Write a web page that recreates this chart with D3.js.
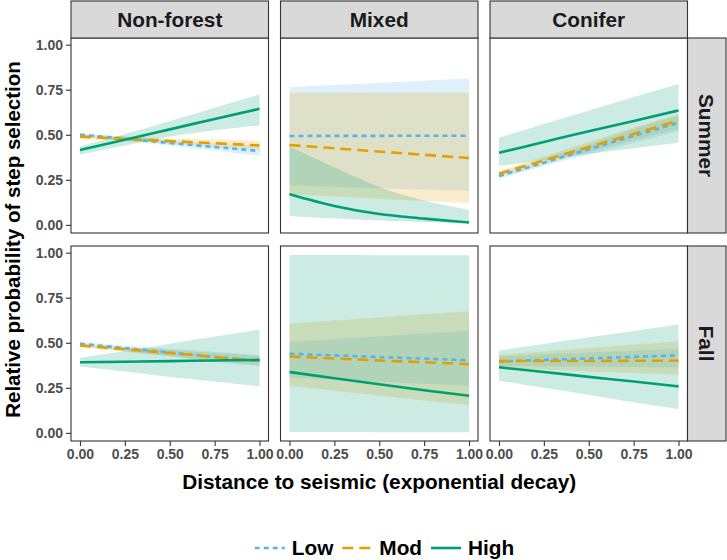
<!DOCTYPE html>
<html><head><meta charset="utf-8">
<script src="https://cdn.jsdelivr.net/npm/d3@7"></script>
<style>body{margin:0;background:#fff}svg{display:block;font-family:"Liberation Sans",Arial,sans-serif}</style>
</head><body><svg id="c" width="727" height="560"></svg>
<script>
// ---- data ----
const habitats = ["Non-forest", "Mixed", "Conifer"];
const seasons = ["Summer", "Fall"];
const levels = ["Low", "Mod", "High"];
const xValues = [0, 0.25, 0.5, 0.75, 1];
const xTicks = [0, 0.25, 0.5, 0.75, 1];
const yTicks = [0, 0.25, 0.5, 0.75, 1];

// each: fit, lower, upper at xValues
const nonforestSummer = {
  Low:  {fit:[0.500,0.478,0.455,0.432,0.410], lo:[0.490,0.465,0.440,0.412,0.385], hi:[0.510,0.490,0.470,0.452,0.440]},
  Mod:  {fit:[0.490,0.477,0.465,0.453,0.441], lo:[0.480,0.465,0.450,0.432,0.415], hi:[0.500,0.490,0.480,0.474,0.468]},
  High: {fit:[0.415,0.472,0.530,0.588,0.644], lo:[0.390,0.440,0.490,0.525,0.552], hi:[0.437,0.505,0.575,0.650,0.723]}
};
const mixedSummer = {
  Low:  {fit:[0.493,0.494,0.494,0.495,0.495], lo:[0.220,0.212,0.204,0.196,0.188], hi:[0.764,0.776,0.788,0.800,0.812]},
  Mod:  {fit:[0.443,0.425,0.407,0.389,0.371], lo:[0.170,0.157,0.145,0.132,0.120], hi:[0.733,0.733,0.733,0.733,0.733]},
  High: {fit:[0.170,0.105,0.060,0.035,0.013], lo:[0.050,0.035,0.024,0.015,0.009], hi:[0.434,0.320,0.210,0.135,0.083]}
};
const coniferSummer = {
  Low:  {fit:[0.271,0.345,0.420,0.494,0.567], lo:[0.255,0.325,0.390,0.455,0.520], hi:[0.287,0.365,0.445,0.530,0.605]},
  Mod:  {fit:[0.284,0.358,0.432,0.505,0.579], lo:[0.265,0.335,0.405,0.470,0.535], hi:[0.300,0.380,0.460,0.540,0.615]},
  High: {fit:[0.400,0.460,0.520,0.577,0.635], lo:[0.327,0.360,0.393,0.425,0.456], hi:[0.484,0.560,0.635,0.710,0.782]}
};
const nonforestFall = {
  Low:  {fit:[0.495,0.470,0.446,0.422,0.398], lo:[0.485,0.455,0.425,0.395,0.370], hi:[0.505,0.485,0.467,0.450,0.430]},
  Mod:  {fit:[0.485,0.464,0.443,0.421,0.400], lo:[0.475,0.450,0.425,0.400,0.375], hi:[0.495,0.477,0.460,0.443,0.427]},
  High: {fit:[0.392,0.395,0.398,0.402,0.405], lo:[0.368,0.340,0.310,0.285,0.258], hi:[0.417,0.455,0.495,0.535,0.573]}
};
const mixedFall = {
  Low:  {fit:[0.439,0.430,0.421,0.412,0.403], lo:[0.309,0.297,0.285,0.272,0.260], hi:[0.504,0.520,0.535,0.551,0.567]},
  Mod:  {fit:[0.424,0.413,0.402,0.392,0.381], lo:[0.260,0.234,0.207,0.180,0.154], hi:[0.606,0.623,0.640,0.658,0.675]},
  High: {fit:[0.338,0.303,0.270,0.237,0.206], lo:[0.005,0.005,0.004,0.004,0.003], hi:[0.987,0.987,0.986,0.986,0.985]}
};
const coniferFall = {
  Low:  {fit:[0.396,0.405,0.413,0.422,0.430], lo:[0.370,0.369,0.367,0.366,0.364], hi:[0.425,0.436,0.446,0.456,0.467]},
  Mod:  {fit:[0.398,0.399,0.399,0.400,0.400], lo:[0.360,0.351,0.341,0.332,0.323], hi:[0.433,0.452,0.471,0.490,0.509]},
  High: {fit:[0.364,0.338,0.311,0.285,0.258], lo:[0.290,0.250,0.210,0.170,0.132], hi:[0.457,0.493,0.530,0.566,0.602]}
};
const panelData = {
  "Summer": [nonforestSummer, mixedSummer, coniferSummer],
  "Fall":   [nonforestFall, mixedFall, coniferFall]
};
const colors = {Low:"#56B4E9", Mod:"#E69F00", High:"#009E73"};
const dashes = {Low:"5,4", Mod:"11,6", High:null};

// ---- layout ----
const svg = d3.select("#c");
const colX = [71, 280.5, 490];
const pw = 197.5;
const rowY = [38, 246];
const ph = 195;
const stripH = 37;
const rStripW = 38.5;
const dark = "#333333";
const bigFont = 20.8;

const yDomain = [-0.045, 1.037];

seasons.forEach((season, r) => {
  const y0 = rowY[r];
  const y = d3.scaleLinear().domain(yDomain).range([y0 + ph, y0]);
  habitats.forEach((hab, c) => {
    const x0 = colX[c];
    const x = d3.scaleLinear().domain([-0.05, 1.05]).range([x0, x0 + pw]);
    const g = svg.append("g");
    g.append("rect").attr("x", x0).attr("y", y0).attr("width", pw).attr("height", ph).attr("fill", "#fff");
    const pd = panelData[season][c];
    levels.forEach(lv => {
      const s = pd[lv];
      const pts = xValues.map((xv, i) => ({x: xv, lo: s.lo[i], hi: s.hi[i]}));
      g.append("path").datum(pts)
        .attr("d", d3.area().x(d => x(d.x)).y0(d => y(d.lo)).y1(d => y(d.hi)).curve(d3.curveMonotoneX))
        .attr("fill", colors[lv]).attr("fill-opacity", 0.2);
    });
    levels.forEach(lv => {
      const s = pd[lv];
      const pts = xValues.map((xv, i) => ({x: xv, v: s.fit[i]}));
      g.append("path").datum(pts)
        .attr("d", d3.line().x(d => x(d.x)).y(d => y(d.v)).curve(d3.curveMonotoneX))
        .attr("fill", "none").attr("stroke", colors[lv]).attr("stroke-width", 2.6)
        .attr("stroke-dasharray", dashes[lv]);
    });
    g.append("rect").attr("x", x0).attr("y", y0).attr("width", pw).attr("height", ph)
      .attr("fill", "none").attr("stroke", dark).attr("stroke-width", 1.1);

    if (r === 0) {
      svg.append("rect").attr("x", x0).attr("y", 1).attr("width", pw).attr("height", stripH)
        .attr("fill", "#d9d9d9").attr("stroke", dark).attr("stroke-width", 1.1);
      svg.append("text").attr("x", x0 + pw / 2).attr("y", 1 + stripH / 2).attr("dy", "0.36em")
        .attr("text-anchor", "middle").attr("font-size", bigFont).attr("font-weight", "bold")
        .attr("fill", "#1a1a1a").text(hab);
    }
    if (c === 2) {
      const sx = x0 + pw;
      svg.append("rect").attr("x", sx).attr("y", y0).attr("width", rStripW).attr("height", ph)
        .attr("fill", "#d9d9d9").attr("stroke", dark).attr("stroke-width", 1.1);
      svg.append("text").attr("transform", `translate(${sx + rStripW / 2},${y0 + ph / 2}) rotate(90)`)
        .attr("dy", "0.36em").attr("text-anchor", "middle").attr("font-size", bigFont)
        .attr("font-weight", "bold").attr("fill", "#1a1a1a").text(season);
    }
    if (c === 0) {
      const ax = svg.append("g").attr("transform", `translate(${x0},0)`)
        .call(d3.axisLeft(y).tickValues(yTicks).tickFormat(d3.format(".2f")).tickSize(5).tickPadding(3));
      ax.select(".domain").remove();
      ax.selectAll("line").attr("stroke", dark).attr("stroke-width", 1.1);
      ax.selectAll("text").attr("font-size", 14).attr("font-weight", "bold").attr("fill", "#4d4d4d")
        .attr("font-family", "Liberation Sans, Arial, sans-serif");
    }
    if (r === 1) {
      const ax = svg.append("g").attr("transform", `translate(0,${y0 + ph})`)
        .call(d3.axisBottom(x).tickValues(xTicks).tickFormat(d3.format(".2f")).tickSize(5).tickPadding(3));
      ax.select(".domain").remove();
      ax.selectAll("line").attr("stroke", dark).attr("stroke-width", 1.1);
      ax.selectAll("text").attr("font-size", 14).attr("font-weight", "bold").attr("fill", "#4d4d4d")
        .attr("font-family", "Liberation Sans, Arial, sans-serif");
    }
  });
});

// axis titles
svg.append("text").attr("x", (colX[0] + colX[2] + pw) / 2).attr("y", 489)
  .attr("text-anchor", "middle").attr("font-size", bigFont).attr("font-weight", "bold").attr("fill", "#000")
  .text("Distance to seismic (exponential decay)");
svg.append("text").attr("transform", `translate(19.5,${(rowY[0] + rowY[1] + ph) / 2}) rotate(-90)`)
  .attr("text-anchor", "middle").attr("font-size", 20.5).attr("font-weight", "bold").attr("fill", "#000")
  .text("Relative probability of step selection");

// legend
const leg = svg.append("g");
const keyW = 30, gapKT = 7, gapItem = 9, legY = 548;
let cx = 0;
levels.forEach(lv => {
  const it = leg.append("g");
  it.append("line").attr("x1", cx).attr("x2", cx + keyW).attr("y1", legY).attr("y2", legY)
    .attr("stroke", colors[lv]).attr("stroke-width", 2.6).attr("stroke-dasharray", dashes[lv]);
  const t = it.append("text").attr("x", cx + keyW + gapKT).attr("y", legY).attr("dy", "0.36em")
    .attr("font-size", bigFont).attr("font-weight", "bold").attr("fill", "#000").text(lv);
  cx += keyW + gapKT + t.node().getComputedTextLength() + gapItem;
});
const totalW = cx - gapItem;
leg.attr("transform", `translate(${384.5 - totalW / 2},0)`);
</script></body></html>
